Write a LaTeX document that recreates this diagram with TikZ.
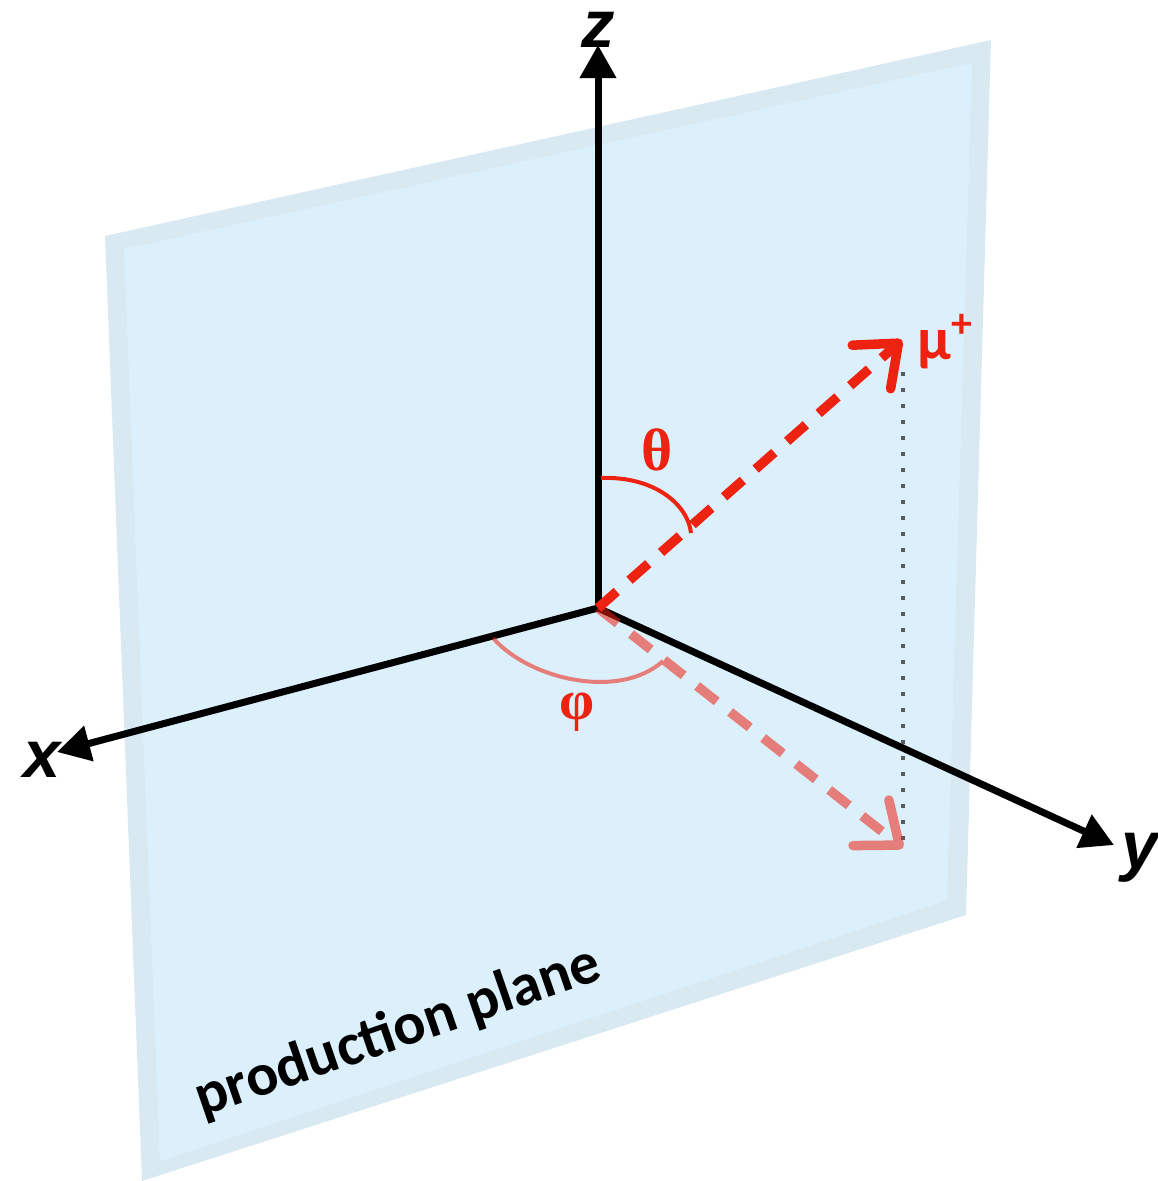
\documentclass[tikz,border=0pt]{standalone}
\usepackage{fontspec}
\setmainfont{Carlito}
\newfontfamily\axisfont{Liberation Sans}
\newfontfamily\greekfont{Liberation Serif}
\usetikzlibrary{arrows.meta}

\definecolor{planefill}{HTML}{DCF0FC}
\definecolor{planeedge}{HTML}{D8E9F2}
\definecolor{mured}{HTML}{EE2211}
\definecolor{dotgray}{HTML}{5A5A5A}

\begin{document}
\begin{tikzpicture}[x=0.01cm, y=-0.01cm,
  axis/.style={line width=0.07cm, -{Triangle[length=0.33cm, width=0.35cm]}},
  axislabel/.style={font=\axisfont\bfseries\itshape\fontsize{19}{19}\selectfont},
  muvec/.style={mured, line width=0.095cm, dash pattern=on 0.25cm off 0.17cm,
    -{Straight Barb[length=0.36cm, width=0.58cm, round]}},
  anglearc/.style={mured, line width=0.04cm},
  greeklabel/.style={text=mured, font=\greekfont\bfseries\fontsize{17}{17}\selectfont}]
\useasboundingbox (0,0) rectangle (1158,1181);

% production plane
\fill[planeedge] (105,236) -- (991,40) -- (966,915) -- (142,1181) -- cycle;
\fill[planefill] (124,249) -- (972,63) -- (947,900) -- (160,1161) -- cycle;
\node[rotate=19, font=\bfseries\fontsize{17}{17}\selectfont] (plane) at (398,1032) {production plane};

% axes
\coordinate (O) at (598,608);
\coordinate (xtip) at (57,752);
\coordinate (ytip) at (1114,845);
\coordinate (ztip) at (598,45);
\draw[axis] (O) -- (xtip);
\draw[axis] (O) -- (ytip);
\draw[axis] (O) -- (ztip);
\node[axislabel] (xlab) at (42,760) {x};
\node[axislabel] (ylab) at (1140,858) {y};
\node[axislabel] (zlab) at (598,30) {z};

% muon and its projection
\coordinate (mutip) at (902,340);
\coordinate (mutop) at (903,372);
\coordinate (proj) at (903,848);
\draw[dotgray, line width=0.04cm, dash pattern=on 0.04cm off 0.12cm] (mutop) -- (proj);
\begin{scope}[transparency group, opacity=0.55]
\draw[muvec] (O) -- (proj);
\coordinate (phiA) at (493,638);
\coordinate (phiB) at (663,661);
\draw[anglearc] (phiA) .. controls (530,680) and (620,700) .. (phiB);
\end{scope}
\draw[muvec] (O) -- (mutip);
\node[text=mured, font=\bfseries\fontsize{17}{17}\selectfont] (mulab) at (946,342) {μ\textsuperscript{+}};

% angles
\coordinate (thA) at (601,478);
\coordinate (thB) at (691,533);
\draw[anglearc] (thA) .. controls (655,476) and (688,505) .. (thB);
\node[greeklabel] (theta) at (657,450) {θ};
\node[greeklabel, font=\greekfont\bfseries\fontsize{16}{16}\selectfont] (phi) at (577,712) {φ};
\end{tikzpicture}
\end{document}
